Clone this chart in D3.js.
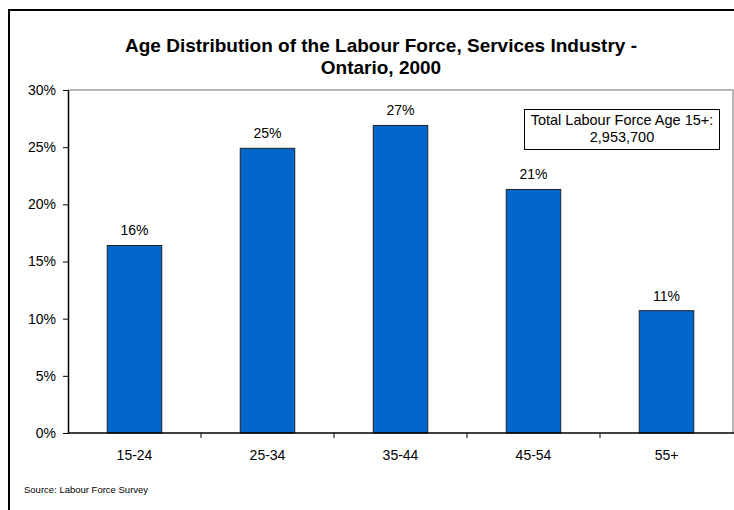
<!DOCTYPE html>
<html>
<head>
<meta charset="utf-8">
<script src="https://cdn.jsdelivr.net/npm/d3@7"></script>
<style>
  html, body { margin: 0; padding: 0; background: #fff; }
  svg { display: block; font-family: "Liberation Sans", Arial, sans-serif; }
</style>
</head>
<body>
<svg id="chart" width="734" height="510"></svg>
<script>
// Age groups and their share of the services-industry labour force (%)
const ageGroups = ["15-24", "25-34", "35-44", "45-54", "55+"];
const shares = [16.4, 24.9, 26.9, 21.3, 10.7];
const yTicks = [0, 5, 10, 15, 20, 25, 30];
const titleLines = ["Age Distribution of the Labour Force, Services Industry -", "Ontario, 2000"];
const totalLines = ["Total Labour Force Age 15+:", "2,953,700"];
const sourceText = "Source: Labour Force Survey";

const svg = d3.select("#chart");
const W = 734, H = 510;
const plot = { left: 68, right: 733, top: 90, bottom: 433 };

// Outer frame (top and left edges visible)
svg.append("path")
  .attr("d", `M9,${H} L9,10 L${W},10`)
  .attr("fill", "none")
  .attr("stroke", "#000")
  .attr("stroke-width", 2);

// Title
svg.append("text")
  .attr("text-anchor", "middle")
  .attr("font-size", 19).attr("font-weight", "bold")
  .selectAll("tspan").data(titleLines).join("tspan")
  .attr("x", 381).attr("y", (d, i) => 52 + i * 22)
  .text(d => d);

const x = d3.scaleBand().domain(ageGroups).range([plot.left, plot.right]).paddingInner(0.59).paddingOuter(0.295);
const xb = d3.scaleBand().domain(ageGroups).range([plot.left, plot.right]);
const y = d3.scaleLinear().domain([0, 30]).range([plot.bottom, plot.top]);

// Plot area border (top and right in gray)
svg.append("path")
  .attr("d", `M${plot.left},${plot.top} L${plot.right},${plot.top} L${plot.right},${plot.bottom}`)
  .attr("fill", "none").attr("stroke", "#a0a0a0").attr("stroke-width", 1.5);

// Bars
svg.append("g").selectAll("rect").data(ageGroups).join("rect")
  .attr("x", d => x(d))
  .attr("y", (d, i) => y(shares[i]))
  .attr("width", x.bandwidth())
  .attr("height", (d, i) => y(0) - y(shares[i]))
  .attr("fill", "#0066CC")
  .attr("stroke", "#222").attr("stroke-width", 1);

// Value labels
svg.append("g").selectAll("text").data(ageGroups).join("text")
  .attr("x", d => x(d) + x.bandwidth() / 2)
  .attr("y", (d, i) => y(shares[i]) - 10)
  .attr("text-anchor", "middle")
  .attr("font-size", 14)
  .text((d, i) => Math.round(shares[i]) + "%");

// Y axis
const yAxis = svg.append("g")
  .attr("transform", `translate(${plot.left},0)`)
  .call(d3.axisLeft(y).tickValues(yTicks).tickFormat(d => d + "%").tickSize(5).tickSizeOuter(0));
yAxis.select(".domain").attr("stroke", "#000").attr("stroke-width", 1.5);
yAxis.selectAll(".tick line").attr("stroke", "#000");
yAxis.selectAll(".tick text").attr("font-size", 14).attr("font-family", "Liberation Sans, Arial, sans-serif").attr("fill", "#000").attr("x", -12);

// X axis with ticks at category boundaries
const xAxis = svg.append("g")
  .attr("transform", `translate(0,${plot.bottom})`);
xAxis.append("line")
  .attr("x1", plot.left).attr("x2", W)
  .attr("stroke", "#000").attr("stroke-width", 1.5);
xAxis.selectAll(".bt").data(ageGroups.slice(1)).join("line")
  .attr("class", "bt")
  .attr("x1", d => xb(d)).attr("x2", d => xb(d))
  .attr("y1", 0).attr("y2", 5)
  .attr("stroke", "#000");
xAxis.selectAll(".lab").data(ageGroups).join("text")
  .attr("class", "lab")
  .attr("x", d => xb(d) + xb.bandwidth() / 2)
  .attr("y", 27)
  .attr("text-anchor", "middle")
  .attr("font-size", 14)
  .text(d => d);

// Total labour force box
const box = svg.append("g");
box.append("rect")
  .attr("x", 524.5).attr("y", 109.5).attr("width", 195).attr("height", 40)
  .attr("fill", "#fff").attr("stroke", "#000").attr("stroke-width", 1);
box.append("text")
  .attr("text-anchor", "middle").attr("font-size", 14.5)
  .selectAll("tspan").data(totalLines).join("tspan")
  .attr("x", 622).attr("y", (d, i) => 125 + i * 17)
  .text(d => d);

// Source note
svg.append("text")
  .attr("x", 24).attr("y", 493)
  .attr("font-size", 9.5)
  .text(sourceText);
</script>
</body>
</html>
